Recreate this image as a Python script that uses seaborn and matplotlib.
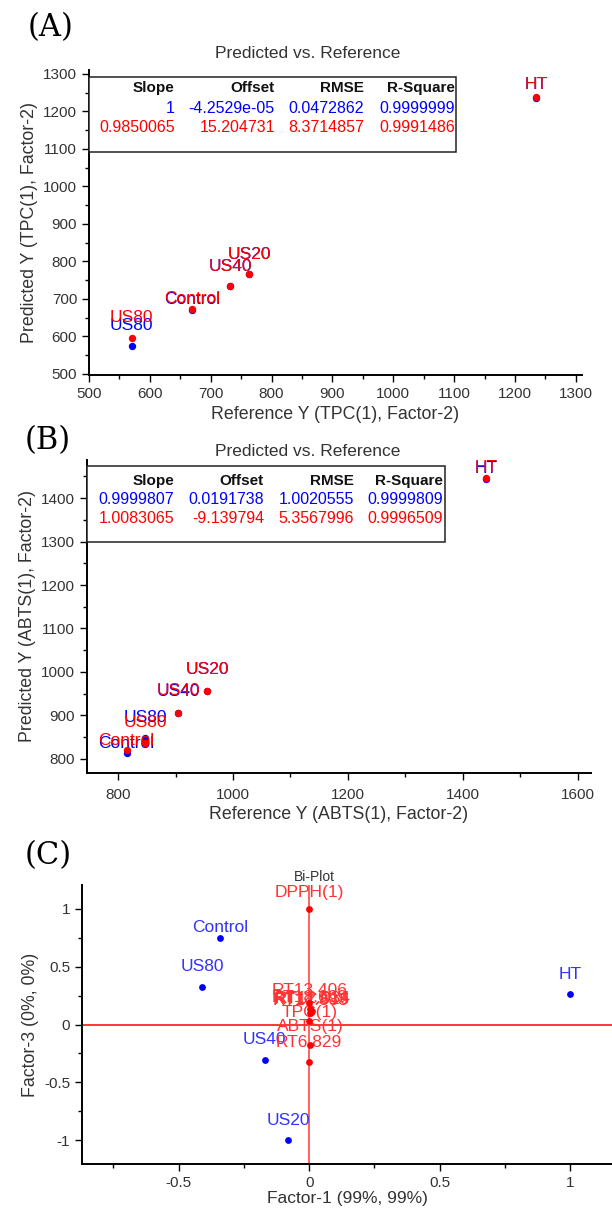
import matplotlib
matplotlib.use("Agg")
import matplotlib.pyplot as plt
import seaborn as sns
from matplotlib.patches import Rectangle
from matplotlib.ticker import MultipleLocator

# ---- data ----
# (A) TPC predicted vs reference
samples_A = ["US80", "Control", "US40", "US20", "HT"]
ref_A = [570, 670, 732, 763, 1234]
cal_A = [573, 671, 733, 765, 1236]      # blue
val_A = [595, 673, 733, 766, 1238]      # red

# (B) ABTS predicted vs reference
samples_B = ["Control", "US80", "US40", "US20", "HT"]
ref_B = [815, 847, 905, 955, 1440]
cal_B = [813, 847, 905, 956, 1445]
val_B = [819, 836, 906, 957, 1447]

stat_cols = ["Slope", "Offset", "RMSE", "R-Square"]
stats_A_cal = ["1", "-4.2529e-05", "0.0472862", "0.9999999"]
stats_A_val = ["0.9850065", "15.204731", "8.3714857", "0.9991486"]
stats_B_cal = ["0.9999807", "0.0191738", "1.0020555", "0.9999809"]
stats_B_val = ["1.0083065", "-9.139794", "5.3567996", "0.9996509"]

# (C) bi-plot
samples_C = ["Control", "US80", "US40", "US20", "HT"]
f1_C = [-0.34, -0.41, -0.17, -0.08, 1.0]
f3_C = [0.75, 0.32, -0.31, -1.0, 0.26]

vars_C = ["DPPH(1)", "RT13.406", "RT14.883", "RT17.516", "RT12.034",
          "RT18.669", "TPC(1)", "ABTS(1)", "RT6.829"]
vf1_C = [0.0, 0.0, 0.004, 0.008, 0.012, 0.002, 0.0, 0.004, 0.0]
vf3_C = [1.0, 0.19, 0.10, 0.11, 0.12, 0.13, 0.03, -0.18, -0.32]

# label offsets in pixels (layout only)
off_A = [21, 10, 20, 20, 13]
off_B = [10, 21, 22, 21, 10]
off_C = [10, 21, 21, 20, 20]
off_vars = [16, 12, 12, 12, 12, 12, 9, 19, 19]

BLUE = "#0000ff"
RED = "#ff0000"
GREY = "#333333"

sns.set_style("ticks")
plt.rcParams["font.family"] = ["Liberation Sans", "DejaVu Sans"]
plt.rcParams["xtick.color"] = "black"
plt.rcParams["ytick.color"] = "black"
plt.rcParams["xtick.labelcolor"] = GREY
plt.rcParams["ytick.labelcolor"] = GREY

fig = plt.figure(figsize=(6.12, 12.12), dpi=100)
W, H = 612.0, 1212.0


def add_axes_px(left, top, right, bottom):
    return fig.add_axes([left / W, 1 - bottom / H, (right - left) / W, (bottom - top) / H])


def style_axes(ax):
    sns.despine(ax=ax)
    for s in ["left", "bottom"]:
        ax.spines[s].set_linewidth(1.4)
        ax.spines[s].set_color("black")
    ax.tick_params(which="major", length=5, width=1, labelsize=11, direction="out")
    ax.tick_params(which="minor", length=3, width=1, direction="out")
    ax.grid(False)


def label_points(ax, xs, ys, names, offs, color):
    for x, y, n, o in zip(xs, ys, names, offs):
        ax.annotate(n, (x, y), xytext=(0, o), textcoords="offset pixels",
                    ha="center", va="center", color=color, fontsize=12.5)


def stats_table(ax, x_right, y_rows, box, cal, val):
    ax.add_patch(Rectangle((box[0], box[1]), box[2] - box[0], box[3] - box[1],
                           transform=ax.transAxes, facecolor="white",
                           edgecolor="#222222", lw=1.1, zorder=5, clip_on=False))
    for i, c in enumerate(stat_cols):
        ax.text(x_right[i], y_rows[0], c, transform=ax.transAxes, ha="right", va="center",
                fontsize=11, fontweight="bold", color="#111111", zorder=6)
        ax.text(x_right[i], y_rows[1], cal[i], transform=ax.transAxes, ha="right", va="center",
                fontsize=11.5, color=BLUE, zorder=6)
        ax.text(x_right[i], y_rows[2], val[i], transform=ax.transAxes, ha="right", va="center",
                fontsize=11.5, color=RED, zorder=6)


def panel_letter(x, y, s):
    fig.text(x / W, 1 - y / H, s, ha="center", va="center",
             fontsize=22, family="DejaVu Serif", color="black")


# ---------- (A) ----------
axA = add_axes_px(89, 70, 582, 375)
sns.scatterplot(x=ref_A, y=cal_A, color=BLUE, s=28, linewidth=0, ax=axA, zorder=3)
sns.scatterplot(x=ref_A, y=val_A, color=RED, s=28, linewidth=0, ax=axA, zorder=4)
label_points(axA, ref_A, cal_A, samples_A, off_A, BLUE)
label_points(axA, ref_A, val_A, samples_A, off_A, RED)
axA.set_xlim(500, 1310)
axA.set_ylim(497, 1310)
axA.xaxis.set_major_locator(MultipleLocator(100))
axA.xaxis.set_minor_locator(MultipleLocator(50))
axA.yaxis.set_major_locator(MultipleLocator(100))
axA.yaxis.set_minor_locator(MultipleLocator(50))
style_axes(axA)
axA.set_xlabel("Reference Y (TPC(1), Factor-2)", fontsize=12.8, color=GREY, labelpad=4)
axA.set_ylabel("Predicted Y (TPC(1), Factor-2)", fontsize=12.8, color=GREY, labelpad=4)
stats_table(axA, [0.174, 0.377, 0.558, 0.742], [0.941, 0.875, 0.810],
            (0.0, 0.731, 0.745, 0.977), stats_A_cal, stats_A_val)
fig.text(308 / W, 1 - 54 / H, "Predicted vs. Reference", ha="center", va="center",
         fontsize=12.5, color=GREY)
panel_letter(51, 28, "(A)")

# ---------- (B) ----------
axB = add_axes_px(87, 460, 591, 773)
sns.scatterplot(x=ref_B, y=cal_B, color=BLUE, s=28, linewidth=0, ax=axB, zorder=3)
sns.scatterplot(x=ref_B, y=val_B, color=RED, s=28, linewidth=0, ax=axB, zorder=4)
label_points(axB, ref_B, cal_B, samples_B, off_B, BLUE)
label_points(axB, ref_B, val_B, samples_B, off_B, RED)
axB.set_xlim(746, 1623)
axB.set_ylim(767, 1488)
axB.xaxis.set_major_locator(MultipleLocator(200))
axB.xaxis.set_minor_locator(MultipleLocator(100))
axB.yaxis.set_major_locator(MultipleLocator(100))
axB.yaxis.set_minor_locator(MultipleLocator(50))
style_axes(axB)
axB.tick_params(axis="x", which="major", pad=6)
axB.set_xlabel("Reference Y (ABTS(1), Factor-2)", fontsize=12.8, color=GREY, labelpad=3)
axB.set_ylabel("Predicted Y (ABTS(1), Factor-2)", fontsize=12.8, color=GREY, labelpad=4)
stats_table(axB, [0.173, 0.351, 0.530, 0.706], [0.932, 0.874, 0.813],
            (0.0, (1300 - 767) / (1488 - 767), 0.710, 0.981), stats_B_cal, stats_B_val)
fig.text(308 / W, 1 - 452 / H, "Predicted vs. Reference", ha="center", va="center",
         fontsize=12.5, color=GREY)
panel_letter(48, 441, "(B)")

# ---------- (C) ----------
axC = add_axes_px(82, 885, 612, 1164)
axC.axhline(0, color=RED, lw=1.1, zorder=1)
axC.axvline(0, color="#ff5555", lw=1.3, zorder=1)
sns.scatterplot(x=f1_C, y=f3_C, color=BLUE, s=24, linewidth=0, ax=axC, zorder=3)
sns.scatterplot(x=vf1_C, y=vf3_C, color=RED, s=24, linewidth=0, ax=axC, zorder=4)
label_points(axC, f1_C, f3_C, samples_C, off_C, "#3333ff")
label_points(axC, vf1_C, vf3_C, vars_C, off_vars, "#ff3333")
axC.set_xlim(-0.87, 1.16)
axC.set_ylim(-1.205, 1.205)
axC.xaxis.set_major_locator(MultipleLocator(0.5))
axC.xaxis.set_minor_locator(MultipleLocator(0.25))
axC.yaxis.set_major_locator(MultipleLocator(0.5))
axC.yaxis.set_minor_locator(MultipleLocator(0.25))
axC.xaxis.set_major_formatter(lambda v, p: f"{v:g}")
axC.yaxis.set_major_formatter(lambda v, p: f"{v:g}")
style_axes(axC)
axC.set_xlabel("Factor-1 (99%, 99%)", fontsize=12.5, color=GREY, labelpad=1)
axC.set_ylabel("Factor-3 (0%, 0%)", fontsize=12.8, color=GREY, labelpad=4)
fig.text(314 / W, 1 - 877 / H, "Bi-Plot", ha="center", va="center", fontsize=10, color=GREY)
panel_letter(48, 856, "(C)")

fig.savefig("out.png", dpi=100)
